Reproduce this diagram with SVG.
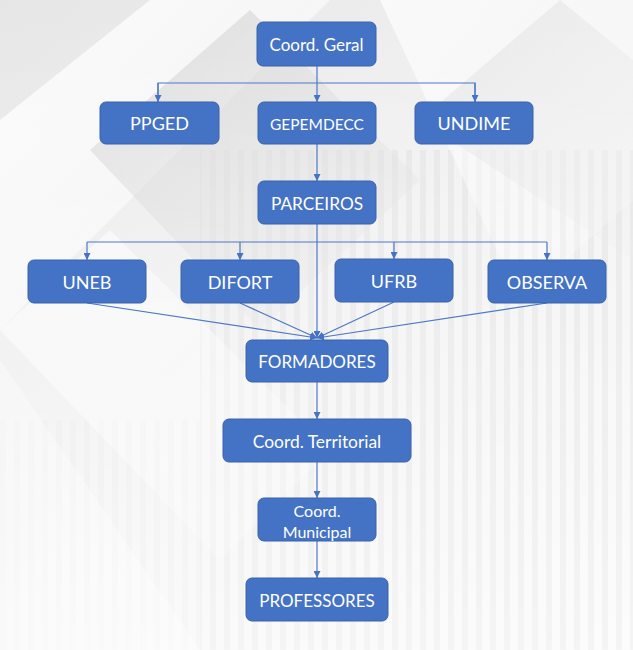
<svg xmlns="http://www.w3.org/2000/svg" width="633" height="650" viewBox="0 0 633 650">
<defs>
<linearGradient id="bg" x1="0" y1="0" x2="1" y2="1">
<stop offset="0" stop-color="#e6e6e6"/>
<stop offset="0.5" stop-color="#f1f1f1"/>
<stop offset="1" stop-color="#f7f7f7"/>
</linearGradient>
<linearGradient id="band1" x1="0" y1="0" x2="1" y2="1">
<stop offset="0" stop-color="#ffffff" stop-opacity="0.9"/>
<stop offset="1" stop-color="#ffffff" stop-opacity="0.2"/>
</linearGradient>
<linearGradient id="band2" x1="0" y1="0" x2="1" y2="1">
<stop offset="0" stop-color="#cfcfcf" stop-opacity="0.7"/>
<stop offset="1" stop-color="#e2e2e2" stop-opacity="0.2"/>
</linearGradient>
<pattern id="stripes" x="0" y="0" width="14" height="10" patternUnits="userSpaceOnUse">
<rect x="0" y="0" width="6" height="10" fill="#e3e3e3"/>
</pattern>
<linearGradient id="fade" x1="0" y1="0" x2="0" y2="1">
<stop offset="0" stop-color="#fff" stop-opacity="0"/>
<stop offset="1" stop-color="#fff" stop-opacity="0.6"/>
</linearGradient>
<marker id="arr" viewBox="0 0 10 10" refX="10" refY="5" markerWidth="7" markerHeight="7" orient="auto" markerUnits="userSpaceOnUse">
<path d="M0,0 L10,5 L0,10 z" fill="#4472c4"/>
</marker>
</defs>
<style>
.box{fill:#4472c4;stroke:#3a62aa;stroke-width:1}
.t{fill:#ffffff;font-family:Lato,"Open Sans","Liberation Sans",sans-serif;text-anchor:middle;dominant-baseline:central}
.c{stroke:#4c78c6;stroke-width:1.2;fill:none}
</style>
<!-- background -->
<rect width="633" height="650" fill="url(#bg)"/>
<rect x="200" y="150" width="433" height="500" fill="url(#stripes)" opacity="0.8"/>
<rect x="0" y="420" width="633" height="230" fill="url(#stripes)" opacity="0.5"/>
<polygon points="0,120 150,0 330,0 0,330" fill="url(#band1)"/>
<polygon points="90,150 250,10 420,180 260,330" fill="url(#band2)"/>
<polygon points="0,330 110,230 330,450 220,560" fill="url(#band1)" opacity="0.7"/>
<polygon points="380,0 633,0 633,200 520,300" fill="url(#band1)" opacity="0.8"/>
<polygon points="420,120 560,0 633,60 633,260" fill="url(#band2)" opacity="0.6"/>
<polygon points="0,360 0,650 200,650" fill="#ffffff" opacity="0.35"/>
<rect x="0" y="0" width="633" height="650" fill="url(#fade)"/>
<!-- connectors -->
<g id="connectors">
<path class="c" d="M317,66 V102" marker-end="url(#arr)"/>
<path class="c" d="M158,102 V83 H475 V102"/>
<path class="c" d="M158,83 V102" marker-end="url(#arr)"/>
<path class="c" d="M475,83 V102" marker-end="url(#arr)"/>
<path class="c" d="M317,144 V181" marker-end="url(#arr)"/>
<path class="c" d="M317,224 V338" marker-end="url(#arr)"/>
<path class="c" d="M87,242 H547"/>
<path class="c" d="M87,242 V260" marker-end="url(#arr)"/>
<path class="c" d="M240,242 V260" marker-end="url(#arr)"/>
<path class="c" d="M394,242 V259" marker-end="url(#arr)"/>
<path class="c" d="M547,242 V260" marker-end="url(#arr)"/>
<path class="c" d="M87,303 L317,338" marker-end="url(#arr)"/>
<path class="c" d="M240,303 L317,338" marker-end="url(#arr)"/>
<path class="c" d="M394,302 L317,338" marker-end="url(#arr)"/>
<path class="c" d="M547,303 L317,338" marker-end="url(#arr)"/>
<path class="c" d="M317,382 V419" marker-end="url(#arr)"/>
<path class="c" d="M317,462 V498" marker-end="url(#arr)"/>
<path class="c" d="M317,541 V578" marker-end="url(#arr)"/>
</g>
<!-- nodes -->
<g id="coord-geral"><rect class="box" x="257" y="22" width="119" height="44" rx="6"/><text class="t" x="316.5" y="44" font-size="17">Coord. Geral</text></g>
<g id="ppged"><rect class="box" x="100" y="102" width="119" height="42" rx="6"/><text class="t" x="159.5" y="123" font-size="18">PPGED</text></g>
<g id="gepemdecc"><rect class="box" x="258" y="102" width="118" height="42" rx="6"/><text class="t" x="317" y="124" font-size="15.5">GEPEMDECC</text></g>
<g id="undime"><rect class="box" x="415" y="102" width="118" height="42" rx="6"/><text class="t" x="474" y="123" font-size="18">UNDIME</text></g>
<g id="parceiros"><rect class="box" x="258" y="181" width="118" height="43" rx="6"/><text class="t" x="317" y="203" font-size="17.3">PARCEIROS</text></g>
<g id="uneb"><rect class="box" x="28" y="260" width="118" height="43" rx="6"/><text class="t" x="87" y="282" font-size="18">UNEB</text></g>
<g id="difort"><rect class="box" x="181" y="260" width="118" height="43" rx="6"/><text class="t" x="240" y="282" font-size="18">DIFORT</text></g>
<g id="ufrb"><rect class="box" x="335" y="259" width="118" height="43" rx="6"/><text class="t" x="394" y="281" font-size="18">UFRB</text></g>
<g id="observa"><rect class="box" x="488" y="260" width="118" height="43" rx="6"/><text class="t" x="547" y="282" font-size="18">OBSERVA</text></g>
<g id="formadores"><rect class="box" x="246" y="340" width="142" height="42" rx="6"/><text class="t" x="317" y="361" font-size="17">FORMADORES</text></g>
<g id="coord-territorial"><rect class="box" x="223" y="419" width="188" height="43" rx="6"/><text class="t" x="317" y="441" font-size="17.4">Coord. Territorial</text></g>
<g id="coord-municipal"><rect class="box" x="258" y="498" width="118" height="43" rx="6"/><text class="t" x="317" y="510" font-size="16">Coord.</text><text class="t" x="317" y="531" font-size="16">Municipal</text></g>
<g id="professores"><rect class="box" x="246" y="578" width="142" height="43" rx="6"/><text class="t" x="317" y="600" font-size="17">PROFESSORES</text></g>
</svg>
